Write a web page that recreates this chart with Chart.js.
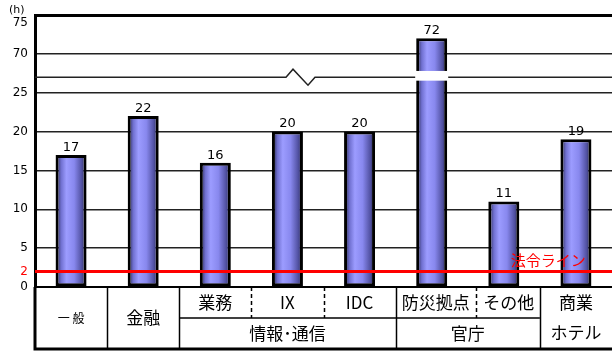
<!DOCTYPE html>
<html>
<head>
<meta charset="utf-8">
<script src="https://cdn.jsdelivr.net/npm/chart.js@4.4.1/dist/chart.umd.min.js"></script>
<style>
    body { margin: 0; background: #fff; }
    #wrap { width: 612px; height: 354px; }
</style>
</head>
<body>
<div id="wrap"><canvas id="chart"></canvas></div>
<script>
// data
const categories = ['一 般', '金融', '業務', 'IX', 'IDC', '防災拠点', 'その他', ['商業', 'ホテル']];
const groupLabels = ['情報･通信', '官庁'];
const groupStart = [2, 5];
const groupEnd = [4, 6];
const hours = [17, 22, 16, 20, 20, 72, 11, 19];
const legalHours = 2;
const legalLabel = '法令ライン';
const yTickValues = [0, 2, 5, 10, 15, 20, 25, 70, 75];
const unitLabel = '(h)';
const breakLow = 25;   // axis jumps from 25 ...
const breakHigh = 70;  // ... straight to 70

const JP = '"Noto Sans CJK JP", sans-serif';
const NUM = '"DejaVu Sans", sans-serif';

// value -> position on the broken axis (one 5-step used for the break)
const disp = v => (v <= breakLow ? v : v - breakHigh + breakLow + 5);
const breakAt = breakLow + 2;
const yTop = yTickValues[yTickValues.length - 1];

function inGroup(i) {
    for (let g = 0; g < groupLabels.length; g++) {
        if (i >= groupStart[g] && i <= groupEnd[g]) return g;
    }
    return -1;
}

function barGradient(c) {
    const chart = c.chart;
    if (!chart.chartArea) return '#9090f0';
    const xs = chart.scales.x;
    const cx = xs.getPixelForValue(c.dataIndex);
    const w = (xs.getPixelForValue(1) - xs.getPixelForValue(0)) * 0.43;
    const g = chart.ctx.createLinearGradient(cx - w / 2, 0, cx + w / 2, 0);
    g.addColorStop(0, '#1c1c38');
    g.addColorStop(0.18, '#7070d0');
    g.addColorStop(0.35, '#9c9cff');
    g.addColorStop(0.6, '#8888ee');
    g.addColorStop(0.85, '#5050a0');
    g.addColorStop(1, '#1c1c38');
    return g;
}

const overlay = {
    id: 'overlay',
    afterDatasetsDraw(chart) {
        const ctx = chart.ctx;
        const area = chart.chartArea;
        const xs = chart.scales.x, ys = chart.scales.y;
        const bars = chart.getDatasetMeta(0).data;
        ctx.save();

        // broken axis line with zigzag
        const yb = ys.getPixelForValue(breakAt);
        const zx = area.left + 251;
        ctx.strokeStyle = '#222';
        ctx.lineWidth = 1.5;
        ctx.beginPath();
        ctx.moveTo(area.left, yb);
        ctx.lineTo(zx, yb);
        ctx.lineTo(zx + 7, yb - 8);
        ctx.lineTo(zx + 22, yb + 8);
        ctx.lineTo(zx + 29, yb);
        ctx.lineTo(area.right, yb);
        ctx.stroke();

        // white gap through bars crossing the break
        bars.forEach((bar, i) => {
            if (hours[i] > breakLow) {
                const y1 = ys.getPixelForValue(breakAt + 0.8);
                const y2 = ys.getPixelForValue(breakAt - 0.45);
                ctx.fillStyle = '#fff';
                ctx.fillRect(bar.x - bar.width / 2 - 1, y1, bar.width + 2, y2 - y1);
            }
        });

        // value labels
        ctx.fillStyle = '#000';
        ctx.font = '13px ' + NUM;
        ctx.textAlign = 'center';
        ctx.textBaseline = 'bottom';
        bars.forEach((bar, i) => {
            ctx.fillText(String(hours[i]), bar.x, bar.y - 1);
        });

        // legal line
        const yl = ys.getPixelForValue(disp(legalHours));
        ctx.strokeStyle = '#ff0000';
        ctx.lineWidth = 3;
        ctx.beginPath();
        ctx.moveTo(area.left, yl);
        ctx.lineTo(area.right, yl);
        ctx.stroke();
        ctx.fillStyle = '#ff0000';
        ctx.font = '15px ' + JP;
        ctx.textAlign = 'left';
        ctx.textBaseline = 'middle';
        ctx.fillText(legalLabel, xs.getPixelForValue(6) + 7, yl - 11);

        ctx.restore();
    },
    afterDraw(chart) {
        const ctx = chart.ctx;
        const area = chart.chartArea;
        const xs = chart.scales.x, ys = chart.scales.y;
        const half = (xs.getPixelForValue(1) - xs.getPixelForValue(0)) / 2;
        const edge = i => (i >= categories.length ? area.right : xs.getPixelForValue(i) - half);
        const top = area.bottom, mid = top + 31, bot = top + 62;
        ctx.save();
        ctx.strokeStyle = '#000';

        // unit and top tick label (sits lower than its line, like the original)
        ctx.fillStyle = '#000';
        ctx.font = '11px ' + NUM;
        ctx.textAlign = 'left';
        ctx.textBaseline = 'middle';
        ctx.fillText(unitLabel, 9, 10);
        ctx.font = '12px ' + NUM;
        ctx.textAlign = 'right';
        ctx.fillText(String(yTop), area.left - 7, ys.getPixelForValue(disp(yTop)) + 8);

        // table frame
        ctx.lineWidth = 2;
        ctx.beginPath();
        ctx.moveTo(area.left, top);
        ctx.lineTo(area.right, top);
        ctx.stroke();
        ctx.lineWidth = 3;
        ctx.beginPath();
        ctx.moveTo(area.left, bot);
        ctx.lineTo(area.right, bot);
        ctx.moveTo(area.left, top);
        ctx.lineTo(area.left, bot + 1.5);
        ctx.stroke();

        // dividers
        ctx.lineWidth = 1.5;
        for (let i = 1; i < categories.length; i++) {
            const g = inGroup(i);
            let x = Math.round(edge(i)) + 0.5;
            if (g >= 0 && g === inGroup(i - 1)) {
                if (i === 6) x += 8; // 防災拠点 is wide
                ctx.setLineDash([4, 3]);
                ctx.beginPath();
                ctx.moveTo(x, top);
                ctx.lineTo(x, mid);
                ctx.stroke();
            } else {
                ctx.setLineDash([]);
                ctx.beginPath();
                ctx.moveTo(x, top);
                ctx.lineTo(x, bot);
                ctx.stroke();
            }
        }
        ctx.setLineDash([]);
        ctx.beginPath();
        ctx.moveTo(edge(groupStart[0]), mid);
        ctx.lineTo(edge(groupEnd[groupEnd.length - 1] + 1), mid);
        ctx.stroke();

        // category labels
        ctx.textAlign = 'center';
        ctx.textBaseline = 'middle';
        categories.forEach((lab, i) => {
            const cx = (edge(i) + edge(i + 1)) / 2 + (i === 5 ? 4 : i === 6 ? 5 : 0);
            const g = inGroup(i);
            const cy = g >= 0 ? (top + mid) / 2 : (top + bot) / 2;
            ctx.font = (i === 0 ? '12px ' : '17px ') + JP;
            const lines = Array.isArray(lab) ? lab : [lab];
            lines.forEach((t, k) => {
                ctx.fillText(t, cx, cy + (k - (lines.length - 1) / 2) * 30);
            });
        });
        ctx.font = '17px ' + JP;
        groupLabels.forEach((lab, g) => {
            const cx = (edge(groupStart[g]) + edge(groupEnd[g] + 1)) / 2;
            ctx.fillText(lab, cx, (mid + bot) / 2);
        });
        ctx.restore();
    }
};

new Chart(document.getElementById('chart'), {
    type: 'bar',
    data: {
        labels: categories,
        datasets: [{
            data: hours.map(disp),
            backgroundColor: barGradient,
            borderColor: '#000',
            borderWidth: 3,
            borderSkipped: false,
            barPercentage: 0.43,
            categoryPercentage: 1
        }]
    },
    options: {
        responsive: true,
        maintainAspectRatio: false,
        animation: false,
        layout: { padding: { top: 15, bottom: 67, left: 0, right: 0 } },
        plugins: {
            legend: { display: false },
            tooltip: { enabled: false }
        },
        scales: {
            x: { display: false },
            y: {
                min: 0,
                max: disp(yTop),
                afterBuildTicks: s => { s.ticks = yTickValues.map(v => ({ value: disp(v) })); },
                afterFit: s => { s.width = 35; },
                ticks: {
                    padding: 7,
                    font: { family: NUM, size: 12 },
                    color: c => (c.tick && c.tick.value === disp(legalHours) ? '#ff0000' : '#000'),
                    callback: d => {
                        const v = yTickValues.find(t => disp(t) === d);
                        return v === yTop ? '' : String(v);
                    }
                },
                grid: {
                    drawTicks: false,
                    color: c => {
                        const v = c.tick ? c.tick.value : -1;
                        if (v === disp(legalHours) || v === 0) return 'rgba(0,0,0,0)';
                        return v === disp(yTop) ? '#000' : '#222';
                    },
                    lineWidth: c => (c.tick && c.tick.value === disp(yTop) ? 3 : 1.5)
                },
                border: { color: '#000', width: 3 }
            }
        }
    },
    plugins: [overlay]
});
</script>
</body>
</html>
